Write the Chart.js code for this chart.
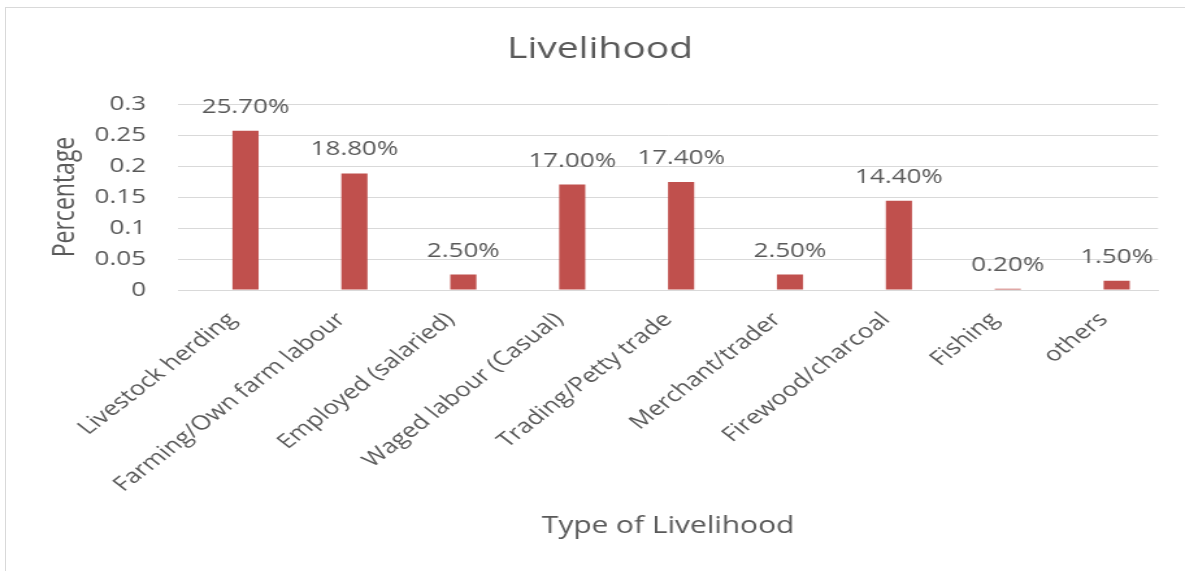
<!DOCTYPE html>
<html>
<head>
<meta charset="utf-8">
<title>Livelihood</title>
<script src="https://cdn.jsdelivr.net/npm/chart.js@4/dist/chart.umd.min.js"></script>
<style>
  html, body { margin: 0; padding: 0; background: #fff; }
  #wrap { position: relative; width: 1185px; height: 571px; overflow: hidden; }
  #frame { position: absolute; left: 5px; top: 7px; width: 1200px; height: 600px; border: 1px solid #d9d9d9; }
  /* the source picture is stretched sideways (~1.3x), so the chart is drawn narrow and widened */
  #stretch { position: absolute; left: 0; top: 0; width: 912px; height: 571px; transform: scaleX(1.2993); transform-origin: 0 0; }
</style>
</head>
<body>
<div id="wrap">
  <div id="frame"></div>
  <div id="stretch"><canvas id="chart" width="912" height="571"></canvas></div>
</div>
<script>
const categories = ["Livestock herding", "Farming/Own farm labour", "Employed (salaried)", "Waged labour (Casual)",
  "Trading/Petty trade", "Merchant/trader", "Firewood/charcoal", "Fishing", "others"];
const shares = [0.257, 0.188, 0.025, 0.170, 0.174, 0.025, 0.144, 0.002, 0.015];
// Excel sheet had an empty first series, so the bars sit right of the category centre
const emptySeries = categories.map(() => null);
const yTicks = [0, 0.05, 0.1, 0.15, 0.2, 0.25, 0.3];

const textColor = "#595959";
const fontFamily = "'Open Sans', sans-serif";

// draws "25.70%" style labels above each bar
const barLabels = {
  id: "barLabels",
  afterDatasetsDraw(chart) {
    const ctx = chart.ctx;
    const meta = chart.getDatasetMeta(1);
    ctx.save();
    ctx.font = "20px " + fontFamily;
    ctx.fillStyle = textColor;
    ctx.textAlign = "center";
    ctx.textBaseline = "alphabetic";
    meta.data.forEach((bar, i) => {
      ctx.fillText((shares[i] * 100).toFixed(2) + "%", bar.x, bar.y - 18);
    });
    ctx.restore();
  }
};

new Chart(document.getElementById("chart"), {
  type: "bar",
  data: {
    labels: categories,
    datasets: [
      { label: "", data: emptySeries, backgroundColor: "#c0504d" },
      { label: "Percentage", data: shares, backgroundColor: "#c0504d", borderWidth: 0 }
    ]
  },
  options: {
    responsive: false,
    animation: false,
    categoryPercentage: 0.48,
    barPercentage: 1,
    layout: { padding: { left: 11.6, right: 0, top: 0, bottom: 0 } },
    plugins: {
      legend: { display: false },
      tooltip: { enabled: false },
      title: {
        display: true,
        text: "Livelihood",
        color: textColor,
        font: { family: fontFamily, size: 30, weight: "normal" },
        padding: { top: 31, bottom: 37 }
      }
    },
    scales: {
      x: {
        grid: { display: false, drawTicks: false },
        border: { display: true, color: "#d9d9d9" },
        ticks: {
          color: textColor,
          font: { family: fontFamily, size: 20 },
          minRotation: 45,
          maxRotation: 45,
          autoSkip: false,
          padding: 18
        },
        title: {
          display: true,
          text: "Type of Livelihood",
          color: textColor,
          font: { family: fontFamily, size: 23 },
          padding: { top: 0, bottom: 31 }
        },
        afterFit(scale) { scale.height = 281; }
      },
      y: {
        min: 0,
        max: 0.3,
        grid: { color: "#d9d9d9", drawTicks: false },
        border: { display: false },
        afterBuildTicks(scale) { scale.ticks = yTicks.map(v => ({ value: v })); },
        ticks: {
          color: textColor,
          font: { family: fontFamily, size: 20 },
          padding: 24.6,
          callback: v => String(+v.toFixed(2))
        },
        title: {
          display: true,
          text: "Percentage",
          color: textColor,
          font: { family: fontFamily, size: 23 },
          padding: { top: 25.4, bottom: 0 }
        },
        afterFit(scale) { scale.width = 125.4; }
      },
      // empty right-hand strip so the plot ends where the reference does and the title stays centred
      pad: {
        type: "linear",
        position: "right",
        grid: { display: false, drawTicks: false },
        border: { display: false },
        ticks: { display: false },
        afterFit(scale) { scale.width = 20.7; }
      }
    }
  },
  plugins: [barLabels]
});
</script>
</body>
</html>
